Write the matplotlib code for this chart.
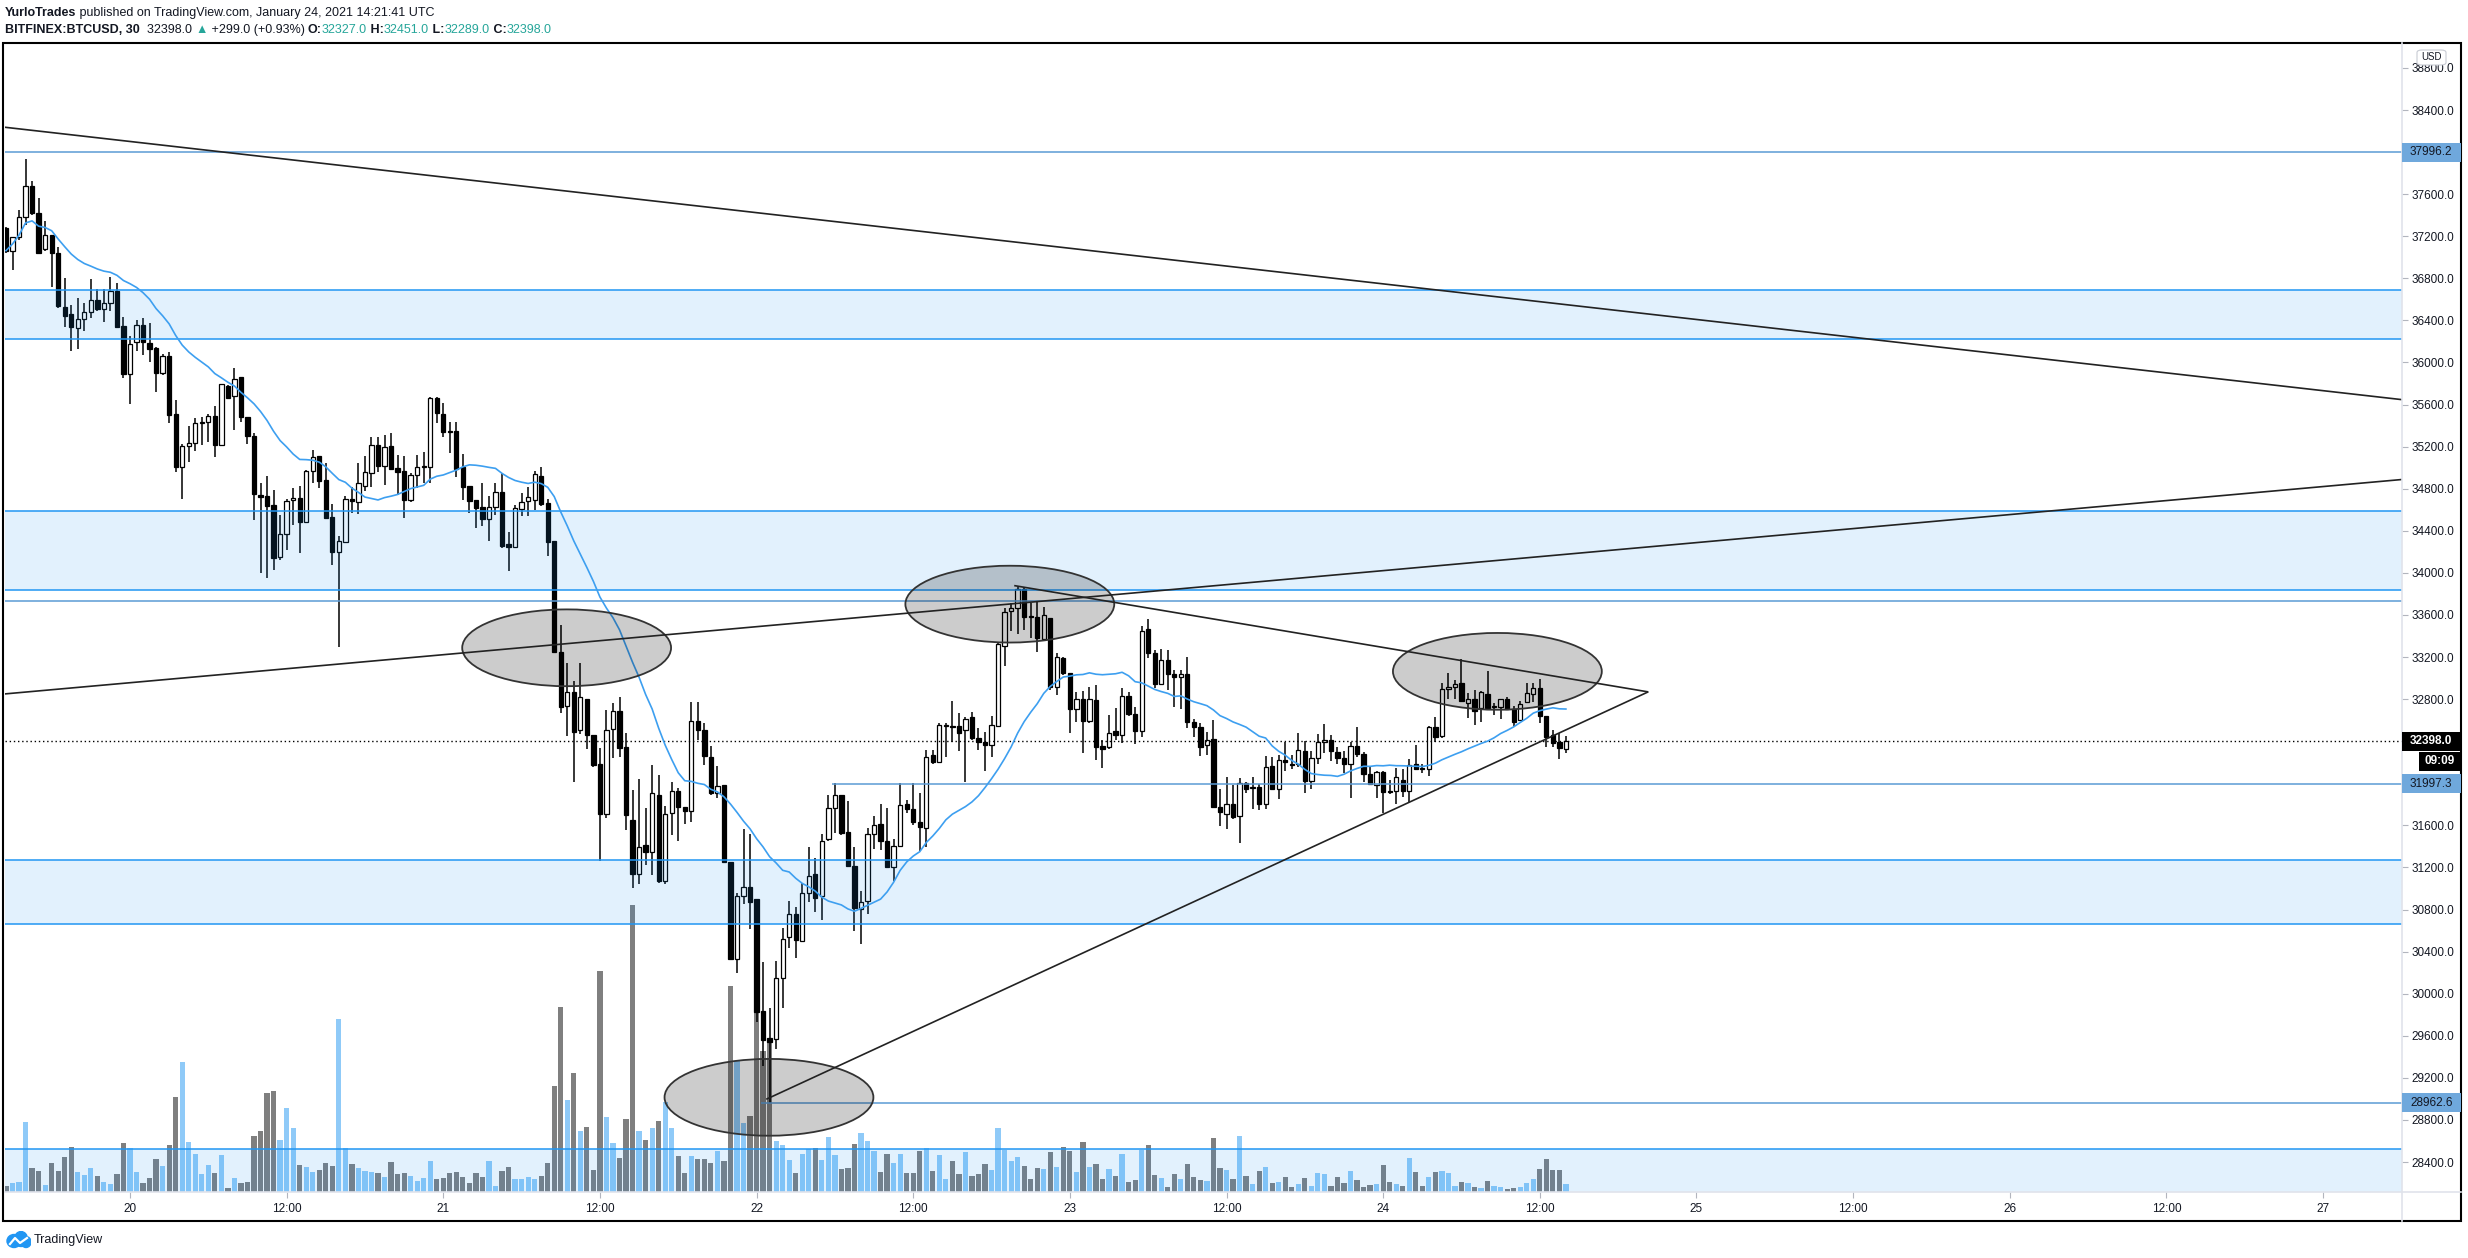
import numpy as np
import pandas as pd
import matplotlib
matplotlib.use('Agg')
import matplotlib.pyplot as plt
import matplotlib.patches as mpatches
import matplotlib.transforms as mtransforms
from matplotlib.lines import Line2D
from matplotlib.offsetbox import TextArea, HPacker, AnnotationBbox

plt.rcParams['font.family'] = ['Liberation Sans', 'DejaVu Sans']

# BITFINEX:BTCUSD 30 min candles, Jan 19 14:30 -> Jan 24 14:00
opens = [37275, 37063, 37190, 37380, 37674, 37424, 37075, 37208, 37037, 36530,
         36460, 36324, 36410, 36483, 36590, 36505, 36562, 36682, 36346, 35887,
         36198, 36353, 36185, 36134, 35896, 36061, 35510, 35009, 35203, 35231,
         35421, 35434, 35491, 35212, 35776, 35678, 35862, 35478, 35301, 34737,
         34730, 34645, 34154, 34366, 34692, 34711, 34480, 34968, 35110, 34883,
         34528, 34195, 34296, 34699, 34677, 34829, 34946, 35212, 35019, 35206,
         34993, 34968, 34693, 34927, 35003, 35009, 35659, 35510, 35345, 35345,
         35003, 34826, 34693, 34626, 34515, 34623, 34765, 34274, 34243, 34604,
         34683, 34689, 34921, 34661, 34300, 33250, 32730, 32868, 32504, 32806,
         32457, 32188, 31711, 32519, 32686, 32344, 31649, 31140, 31413, 31351,
         31893, 31074, 31722, 31929, 31777, 31740, 32595, 32504, 32250, 31904,
         31984, 31249, 30329, 30932, 31013, 30896, 29835, 29575, 29566, 30152,
         30542, 30754, 30504, 30958, 31140, 30929, 31467, 31769, 31893, 31540,
         31213, 30802, 30885, 31515, 31613, 31449, 31202, 31400, 31799, 31752,
         31635, 31571, 32269, 32199, 32541, 32544, 32544, 32503, 32627, 32427,
         32395, 32360, 32544, 33302, 33637, 33663, 33844, 33590, 33577, 33374,
         33568, 32918, 33188, 33051, 32709, 32798, 32595, 32792, 32350, 32341,
         32497, 32455, 32829, 32658, 32500, 33466, 33235, 32940, 33172, 33035,
         33007, 33035, 32585, 32538, 32364, 32417, 31777, 31707, 31803, 31692,
         32006, 31958, 31961, 31799, 32161, 31942, 32218, 32183, 32183, 32303,
         32021, 32243, 32392, 32414, 32297, 32237, 32180, 32357, 32275, 32085,
         31980, 32104, 31923, 31929, 32034, 31929, 32183, 32142, 32135, 32532,
         32452, 32893, 32912, 32950, 32760, 32798, 32712, 32848, 32722, 32722,
         32798, 32703, 32598, 32776, 32848, 32906, 32642, 32459, 32395, 32327]

highs = [37290, 37196, 37449, 37934, 37725, 37560, 37345, 37210, 37094, 36803,
         36543, 36610, 36562, 36790, 36695, 36695, 36812, 36758, 36435, 36252,
         36404, 36420, 36375, 36144, 36077, 36100, 35643, 35225, 35399, 35469,
         35485, 35510, 35586, 35795, 35785, 35947, 35865, 35480, 35326, 34851,
         34920, 34787, 34550, 34699, 34807, 34826, 34981, 35165, 35112, 35047,
         34651, 34350, 34731, 34813, 35048, 35111, 35295, 35295, 35311, 35333,
         35120, 35111, 34946, 35120, 35152, 35669, 35675, 35612, 35437, 35437,
         35127, 34829, 34695, 34851, 34731, 34851, 34946, 34392, 34645, 34756,
         34819, 34968, 35006, 34702, 34300, 33505, 33141, 32977, 33141, 32806,
         32457, 32340, 32697, 32766, 32824, 32475, 31933, 32039, 31766, 32177,
         32079, 31784, 32013, 31958, 31777, 32777, 32777, 32570, 32359, 32169,
         31984, 31249, 30958, 31566, 31522, 30900, 30304, 29861, 30311, 30621,
         30881, 30827, 31049, 31395, 31286, 31522, 31886, 32002, 31893, 31831,
         31395, 30976, 31577, 31686, 31802, 31766, 31467, 32002, 31841, 32005,
         31904, 32316, 32316, 32570, 32570, 32785, 32671, 32633, 32681, 32522,
         32490, 32639, 33330, 33663, 33710, 33863, 33863, 33717, 33726, 33679,
         33568, 33241, 33203, 33051, 32871, 32880, 32918, 32934, 32411, 32646,
         32712, 32909, 32871, 32728, 33498, 33558, 33267, 33273, 33267, 33077,
         33077, 33197, 32607, 32570, 32490, 32601, 31942, 32056, 31980, 32047,
         32015, 32056, 31993, 32259, 32253, 32269, 32395, 32269, 32474, 32405,
         32310, 32468, 32560, 32459, 32348, 32310, 32395, 32532, 32300, 32164,
         32120, 32120, 32031, 32142, 32132, 32227, 32364, 32183, 32544, 32633,
         32950, 33045, 32981, 33178, 32855, 32886, 32880, 33067, 32766, 32798,
         32817, 32734, 32782, 32950, 32956, 32988, 32642, 32506, 32475, 32451]

lows = [37040, 36879, 37164, 37307, 37402, 37040, 37060, 36720, 36521, 36334,
        36112, 36131, 36302, 36426, 36489, 36381, 36489, 36330, 35855, 35602,
        36112, 36068, 36001, 35722, 35877, 35428, 34962, 34705, 35050, 35161,
        35215, 35247, 35104, 35206, 35650, 35361, 35437, 35222, 34502, 34000,
        33950, 34030, 34120, 34217, 34455, 34185, 34474, 34851, 34810, 34509,
        34075, 33298, 34281, 34572, 34560, 34781, 34819, 34962, 34835, 34985,
        34740, 34518, 34677, 34803, 34851, 34851, 35421, 35295, 35136, 34914,
        34693, 34572, 34430, 34445, 34303, 34550, 34233, 34021, 34239, 34544,
        34544, 34597, 34635, 34163, 33235, 32668, 32450, 32013, 32468, 32330,
        32159, 31260, 31667, 32242, 32250, 31558, 31005, 31038, 31224, 31129,
        31049, 31038, 31504, 31449, 31613, 31631, 32413, 32177, 31893, 31857,
        31238, 30321, 30201, 30849, 30612, 29734, 29316, 28963, 29474, 29867,
        30431, 30336, 30496, 30867, 30776, 30703, 31449, 31529, 31504, 31213,
        30594, 30474, 30758, 31376, 31369, 31195, 31067, 31395, 31714, 31603,
        31359, 31397, 32183, 32199, 32246, 32395, 32310, 32015, 32411, 32316,
        32120, 32253, 32538, 33115, 33450, 33419, 33457, 33378, 33251, 33368,
        32886, 32839, 33029, 32474, 32585, 32291, 32570, 32221, 32142, 32322,
        32411, 32379, 32639, 32373, 32443, 33188, 32902, 32934, 32886, 32722,
        32709, 32522, 32436, 32259, 32269, 31770, 31597, 31562, 31660, 31435,
        31910, 31752, 31746, 31752, 31936, 31847, 32120, 32135, 32151, 31904,
        31948, 32183, 32284, 32215, 32183, 32101, 31856, 32253, 32015, 31980,
        31856, 31714, 31898, 31799, 31872, 31825, 32132, 32094, 32069, 32395,
        32427, 32798, 32798, 32776, 32617, 32557, 32585, 32696, 32649, 32608,
        32696, 32538, 32592, 32766, 32776, 32570, 32348, 32348, 32234, 32289]

closes = [37063, 37190, 37380, 37674, 37424, 37044, 37208, 37037, 36540, 36445,
          36334, 36410, 36483, 36590, 36511, 36562, 36682, 36340, 35887, 36175,
          36353, 36191, 36131, 35896, 36061, 35504, 35009, 35206, 35234, 35421,
          35434, 35491, 35212, 35792, 35665, 35843, 35478, 35304, 34746, 34718,
          34639, 34138, 34366, 34683, 34711, 34480, 34968, 35098, 34870, 34525,
          34195, 34306, 34699, 34687, 34851, 34956, 35212, 35019, 35193, 34990,
          34962, 34693, 34927, 35003, 35012, 35659, 35516, 35342, 35336, 34987,
          34813, 34686, 34620, 34515, 34623, 34765, 34258, 34246, 34613, 34670,
          34718, 34937, 34658, 34296, 33251, 32722, 32868, 32486, 32824, 32457,
          32177, 31711, 32511, 32686, 32333, 31700, 31140, 31395, 31351, 31904,
          31074, 31704, 31929, 31777, 31740, 32595, 32504, 32257, 31904, 31977,
          31249, 30329, 30929, 31013, 30874, 29830, 29560, 29544, 30152, 30516,
          30754, 30510, 30958, 31122, 30911, 31456, 31769, 31893, 31529, 31213,
          30812, 30867, 31522, 31606, 31456, 31202, 31405, 31795, 31752, 31635,
          31587, 32253, 32205, 32551, 32547, 32532, 32481, 32614, 32427, 32395,
          32360, 32551, 33321, 33625, 33663, 33844, 33584, 33577, 33378, 33596,
          32918, 33197, 33051, 32709, 32798, 32595, 32798, 32348, 32329, 32481,
          32462, 32829, 32658, 32500, 33447, 33235, 32940, 33172, 33035, 33007,
          33035, 32585, 32538, 32348, 32414, 31777, 31723, 31803, 31676, 32006,
          31948, 31967, 31799, 32151, 31942, 32218, 32199, 32177, 32313, 32024,
          32243, 32395, 32414, 32303, 32237, 32180, 32357, 32275, 32085, 31990,
          32104, 31920, 31914, 32056, 31929, 32177, 32139, 32135, 32532, 32436,
          32893, 32912, 32940, 32785, 32798, 32690, 32864, 32712, 32728, 32798,
          32703, 32585, 32750, 32855, 32906, 32642, 32443, 32386, 32332, 32398]

volumes = [17, 27, 30, 209, 71, 62, 20, 86, 62, 104,
           134, 59, 50, 71, 47, 29, 23, 53, 146, 131,
           59, 26, 41, 98, 77, 140, 284, 389, 149, 113,
           53, 80, 56, 110, 11, 41, 26, 29, 167, 182,
           296, 302, 155, 251, 191, 80, 74, 59, 65, 86,
           77, 518, 131, 83, 71, 62, 59, 56, 44, 89,
           53, 56, 47, 32, 41, 92, 38, 41, 56, 59,
           44, 26, 56, 44, 92, 17, 62, 74, 38, 38,
           44, 38, 47, 86, 317, 554, 275, 356, 182, 194,
           65, 662, 224, 146, 101, 218, 860, 182, 155, 191,
           212, 269, 191, 107, 56, 107, 98, 98, 86, 122,
           92, 617, 392, 206, 227, 653, 422, 452, 152, 140,
           95, 56, 113, 128, 131, 95, 164, 110, 68, 71,
           143, 176, 152, 122, 59, 113, 86, 113, 56, 56,
           122, 131, 62, 110, 38, 92, 53, 119, 47, 53,
           83, 65, 191, 125, 92, 104, 77, 38, 71, 70,
           119, 74, 134, 122, 59, 149, 74, 83, 38, 68,
           47, 113, 29, 35, 125, 140, 50, 41, 14, 53,
           38, 83, 44, 35, 32, 161, 71, 65, 38, 167,
           47, 23, 62, 74, 26, 29, 44, 14, 23, 41,
           17, 56, 53, 17, 44, 26, 62, 35, 14, 20,
           23, 80, 29, 23, 17, 101, 59, 17, 44, 59,
           62, 56, 17, 29, 26, 14, 11, 32, 17, 14,
           8, 11, 14, 26, 38, 68, 98, 65, 65, 23]

time_labels = ['20', '12:00', '21', '12:00', '22', '12:00', '23', '12:00',
               '24', '12:00', '25', '12:00', '26', '12:00', '27']
first_label_bar = 19      # Jan 20 00:00
bars_per_label = 24       # 12 hours of 30 min bars

# user drawings
zones = [(36220, 36689), (33834, 34588), (30667, 31271), (27500, 28521)]
full_levels = [37996.2, 33733]
ray_levels = [(126.6, 31997.3), (115.7, 28962.6)]
trend_lines = [((-1, 38242), (367.5, 35644)),
               ((-1, 32845), (367.5, 34890)),
               ((154.6, 33878), (251.5, 32870)),
               ((116.6, 29000), (251.5, 32866))]
ellipses = [(85.9, 33288), (153.8, 33703), (116.9, 29015), (228.5, 33064)]
last_price = 32398.0
price_tags = [37996.2, 31997.3, 28962.6]

TEXT = '#131722'
TEAL = '#26a69a'
BLUE = '#2196f3'

W, H = 2468, 1258
fig = plt.figure(figsize=(W / 100, H / 100), dpi=100)
fig.patch.set_facecolor('white')


def fx(px):
    return px / W


def fy(py):
    return 1 - py / H


rect = [fx(5), fy(1192), fx(2402) - fx(5), fy(43) - fy(1192)]
ax_vol = fig.add_axes(rect)
ax = fig.add_axes(rect, sharex=ax_vol)
ax.patch.set_visible(False)
ax_vol.set_axis_off()

x = np.arange(len(closes))
o = np.array(opens, dtype=float)
c = np.array(closes, dtype=float)
up = c >= o

# volume
vol_colors = [BLUE if u else 'black' for u in up]
ax_vol.bar(x, volumes, width=0.8, color=vol_colors, alpha=0.5, linewidth=0)
ax_vol.set_ylim(0, max(volumes) * 1149 / 287)

# candles
ax.vlines(x, lows, highs, color='black', linewidth=1.1, zorder=2)
body_lo = np.minimum(o, c)
body_h = np.maximum(np.abs(c - o), 9)
ax.bar(x, body_h, bottom=body_lo, width=0.66,
       color=['white' if u else 'black' for u in up],
       edgecolor='black', linewidth=0.9, zorder=2.5)

# moving average
ma = pd.Series(closes).rolling(20, min_periods=1).mean()
ax.plot(x, ma, color='#3d9ff0', linewidth=1.2, zorder=3.5)

# zones and levels
for lo, hi in zones:
    ax.axhspan(lo, hi, color=BLUE, alpha=0.13, linewidth=0, zorder=3)
    ax.axhline(lo, color=BLUE, linewidth=1.1, zorder=3)
    ax.axhline(hi, color=BLUE, linewidth=1.1, zorder=3)
for lv in full_levels:
    ax.axhline(lv, color='#5b9bd5', linewidth=1.1, zorder=3)
for start, lv in ray_levels:
    ax.hlines(lv, start, 400, color='#5b9bd5', linewidth=1.1, zorder=3)
ax.axhline(last_price, color='black', linewidth=1.0, linestyle=(0, (1, 2)), zorder=3)

for (x0, y0), (x1, y1) in trend_lines:
    ax.plot([x0, x1], [y0, y1], color='#222222', linewidth=1.2, zorder=5)

for cx, cy in ellipses:
    ax.add_patch(mpatches.Ellipse((cx, cy), 32, 730, facecolor=(0, 0, 0, 0.2),
                                  edgecolor='#333333', linewidth=1.3, zorder=4))

ax.set_xlim(-0.15, 367.1)
ax.set_ylim(28115, 39037)
for s in ax.spines.values():
    s.set_visible(False)

price_ticks = [p for p in range(28400, 39000, 400) if p not in (32000, 32400, 38000)]
ax.yaxis.tick_right()
ax.set_yticks(price_ticks)
ax.set_yticklabels([f'{p:.1f}' for p in price_ticks])
ax.tick_params(axis='y', length=4, color='#b2b5be', labelsize=8.5,
               labelcolor=TEXT, pad=3)
tick_pos = [first_label_bar + bars_per_label * k for k in range(len(time_labels))]
ax.set_xticks(tick_pos)
ax.set_xticklabels(time_labels)
ax.tick_params(axis='x', length=4, color='#b2b5be', labelsize=8.5,
               labelcolor=TEXT, pad=4)

# frame and separators
fig.add_artist(Line2D([fx(2402), fx(2402)], [fy(43), fy(1221)], color='#e0e3eb', linewidth=1.2))
fig.add_artist(Line2D([fx(5), fx(2461)], [fy(1192), fy(1192)], color='#e0e3eb', linewidth=1.2))
fig.add_artist(mpatches.Rectangle((fx(3), fy(1221)), fx(2461) - fx(3), fy(43) - fy(1221),
                                  fill=False, edgecolor='black', linewidth=1.5))

# price tags on the scale
blend = mtransforms.blended_transform_factory(fig.transFigure, ax.transData)
half = 9.5 * (39037 - 28115) / 1149


def price_tag(price, text, face, tcolor, weight='normal'):
    fig.add_artist(mpatches.Rectangle((fx(2402), price - half), fx(2461) - fx(2402), 2 * half,
                                      transform=blend, facecolor=face, edgecolor='none', zorder=5))
    fig.text(fx(2410), price, text, transform=blend, ha='left', va='center',
             fontsize=8.5, color=tcolor, fontweight=weight, zorder=6)


for p in price_tags:
    price_tag(p, f'{p:.1f}', '#6fa8dc', TEXT)
price_tag(last_price, f'{last_price:.1f}', 'black', 'white', 'bold')
fig.add_artist(mpatches.Rectangle((fx(2419), fy(771)), fx(2461) - fx(2419), fy(752) - fy(771),
                                  facecolor='black', edgecolor='none', zorder=5))
fig.text(fx(2440), fy(761.5), '09:09', ha='center', va='center', fontsize=8.5,
         color='white', fontweight='bold', zorder=6)

# currency box
fig.add_artist(mpatches.FancyBboxPatch((fx(2417), fy(65)), fx(2446) - fx(2417), fy(50) - fy(65),
                                       boxstyle='round,pad=0,rounding_size=0.002',
                                       facecolor='white', edgecolor='#c8cbd3', linewidth=0.8, zorder=5))
fig.text(fx(2431.5), fy(57.5), 'USD', ha='center', va='center', fontsize=7, color=TEXT, zorder=6)


# header
def seg(s, color=TEXT, weight='normal'):
    return TextArea(s, textprops=dict(color=color, fontsize=9, fontweight=weight,
                                      family=['Liberation Sans', 'DejaVu Sans']))


line1 = HPacker(children=[seg('YurloTrades', weight='bold'),
                          seg(' published on TradingView.com, January 24, 2021 14:21:41 UTC')],
                align='baseline', pad=0, sep=0)
line2 = HPacker(children=[seg('BITFINEX:BTCUSD, 30', weight='bold'), seg('  32398.0 '),
                          seg('\u25b2', color=TEAL), seg(' +299.0 (+0.93%) '),
                          seg('O:', weight='bold'), seg('32327.0', color=TEAL),
                          seg(' H:', weight='bold'), seg('32451.0', color=TEAL),
                          seg(' L:', weight='bold'), seg('32289.0', color=TEAL),
                          seg(' C:', weight='bold'), seg('32398.0', color=TEAL)],
                align='baseline', pad=0, sep=0)
for line, ypix in ((line1, 13), (line2, 30)):
    fig.add_artist(AnnotationBbox(line, (fx(5), fy(ypix)), xycoords='figure fraction',
                                  box_alignment=(0, 0.5), frameon=False, pad=0))

# footer logo
logo = fig.add_axes([fx(6), fy(1249), fx(31) - fx(6), fy(1231) - fy(1249)])
logo.set_xlim(0, 25)
logo.set_ylim(0, 18)
logo.set_axis_off()
logo.add_patch(mpatches.Ellipse((8, 8), 14, 13, color='#2196f3'))
logo.add_patch(mpatches.Ellipse((15, 10), 13, 15, color='#2196f3'))
logo.add_patch(mpatches.Ellipse((20, 7), 10, 11, color='#2196f3'))
logo.plot([4, 9, 14, 21], [5, 11, 6, 11], color='white', linewidth=1.6)
fig.text(fx(34), fy(1240), 'TradingView', ha='left', va='center', fontsize=9, color=TEXT)

fig.savefig('out.png', dpi=100, facecolor='white')
